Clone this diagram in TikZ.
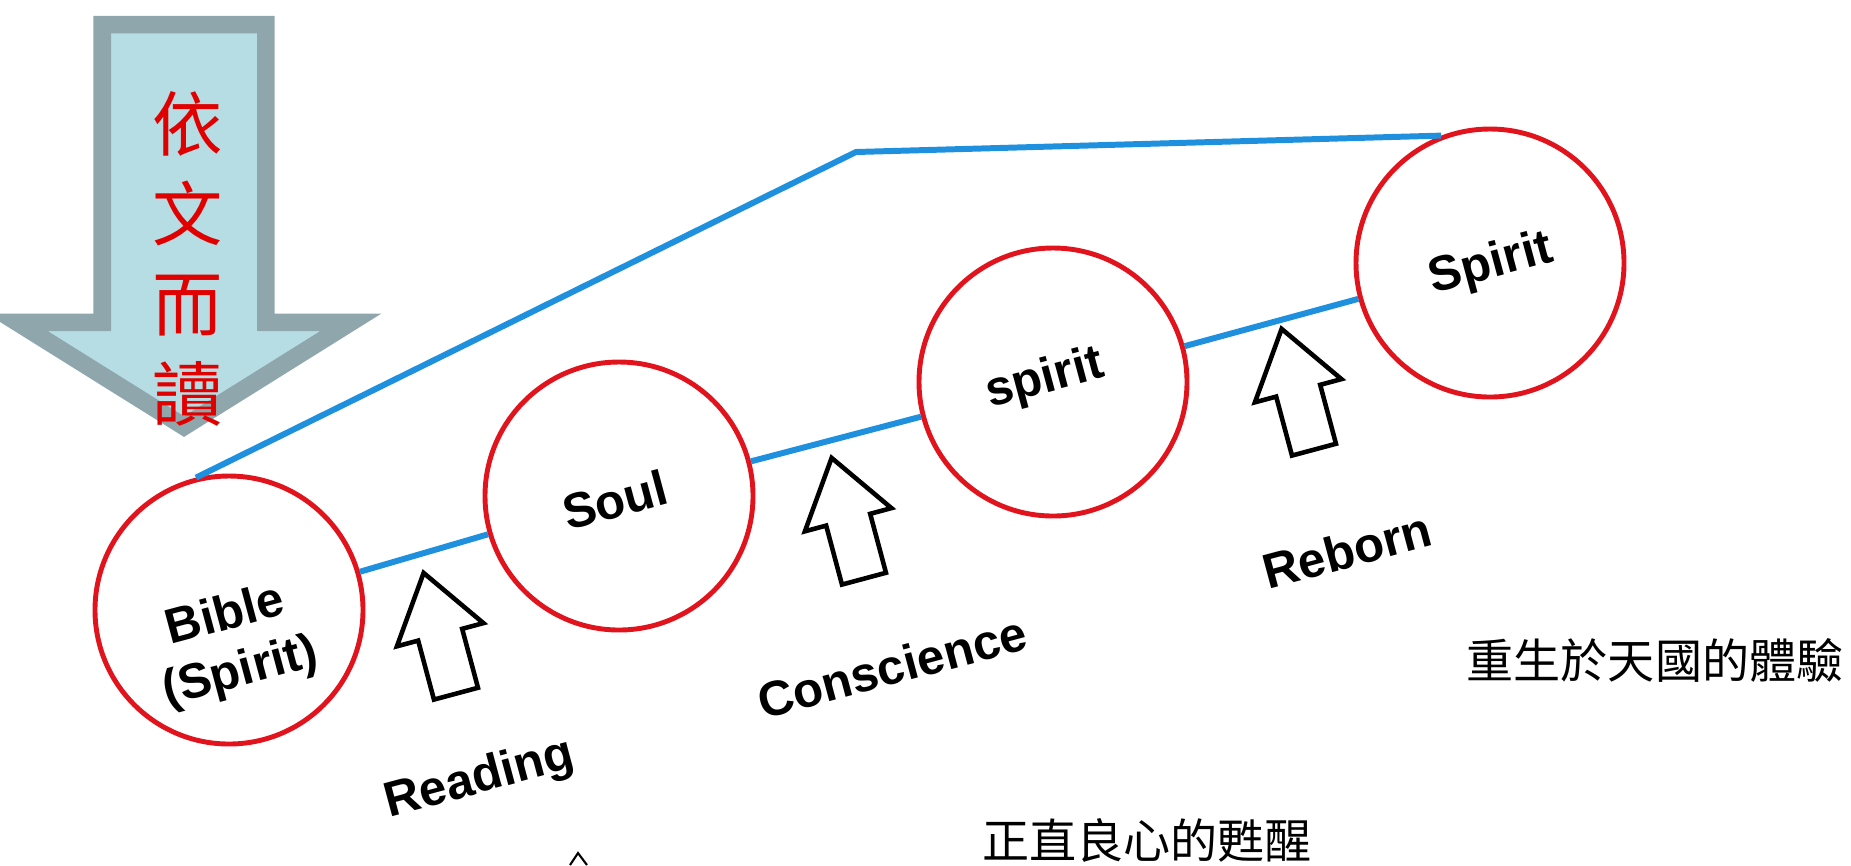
\documentclass[tikz,border=0pt]{standalone}
\usepackage{fontspec}
\setmainfont{Liberation Sans}
\newfontfamily\cjk{Noto Sans CJK TC}
\usepackage{xcolor}
\usepackage{tikz}
\usetikzlibrary{positioning,shapes,shapes.arrows}

\definecolor{linkblue}{RGB}{30,144,222}
\definecolor{ringred}{RGB}{225,20,30}
\definecolor{bigfill}{RGB}{183,221,228}
\definecolor{bigedge}{RGB}{142,166,172}
\definecolor{textred}{RGB}{225,0,0}

\begin{document}
\begin{tikzpicture}[
            ring/.style={circle, draw=ringred, line width=1.4pt, minimum size=2.68cm, inner sep=0pt},
            link/.style={draw=linkblue, line width=1.7pt},
            lbl/.style={rotate=15, font=\fontsize{14}{16.5}\selectfont\bfseries, align=center},
            uparrow/.style={single arrow, draw, line width=1.3pt, rotate=105,
                inner xsep=0pt, inner ysep=0.205cm,
                minimum height=1.25cm, minimum width=0.85cm,
                single arrow head extend=0.22cm, single arrow tip angle=70},
            cjktext/.style={font=\cjk\fontsize{13.4}{16}\selectfont},
            auto
        ]
            \useasboundingbox (0,0) rectangle (18.51,-8.65);
            % big arrow
            \node[single arrow, draw=bigedge, fill=bigfill, line width=5pt, rotate=-90,
                inner xsep=0pt, inner ysep=0.73cm,
                minimum height=4.02cm, minimum width=3.16cm,
                single arrow head extend=0.85cm, single arrow tip angle=116] (bigarrow) at (1.84,-2.00) {};
            \node[text=textred, font=\cjk\fontsize{20}{25.6}\selectfont, align=center] (readtext) at (1.88,-2.59) {依\\文\\而\\讀};
            \begin{scope}[
                every node/.style={ring}
            ]
                % Circles
                \node (bible) at ( 2.29,-6.10) {};
                \node (soul) at ( 6.19,-4.96) {};
                \node (spirit) at (10.53,-3.82) {};
                \node (Spirit) at (14.90,-2.63) {};
            \end{scope}
            \coordinate (bend) at (8.56,-1.52);
            % Links
            \draw[link] (bible) -- (soul);   % Bible - Soul
            \draw[link] (soul) -- (spirit);  % Soul - spirit
            \draw[link] (spirit) -- (Spirit); % spirit - Spirit
            \draw[link] (bible.104) -- (bend) -- (Spirit.111);
            % Circle texts
            \node[lbl] (biblelbl) at (2.33,-6.45) {Bible\\(Spirit)};
            \node[lbl] (soullbl) at (6.15,-5.00) {Soul};
            \node[lbl] (spiritlbl) at (10.45,-3.80) {spirit};
            \node[lbl] (Spiritlbl) at (14.91,-2.65) {Spirit};
            % Arrows
            \node[uparrow] (readarrow) at (4.44,-6.49) {};
            \node[uparrow] (consarrow) at (8.52,-5.34) {};
            \node[uparrow] (rebarrow) at (13.02,-4.05) {};
            \node[lbl] (readlbl) at (4.80,-7.80) {Reading};
            \node[lbl] (conslbl) at (8.92,-6.67) {Conscience};
            \node[lbl] (reblbl) at (13.47,-5.50) {Reborn};
            % Chinese notes
            \node[cjktext] (heaventext) at (16.55,-6.60) {重生於天國的體驗};
            \node[cjktext] (wakentext) at (11.47,-8.40) {正直良心的甦醒};
            \draw[line width=0.6pt] (5.70,-8.65) -- (5.78,-8.53) -- (5.87,-8.65);
        \end{tikzpicture}
\end{document}
